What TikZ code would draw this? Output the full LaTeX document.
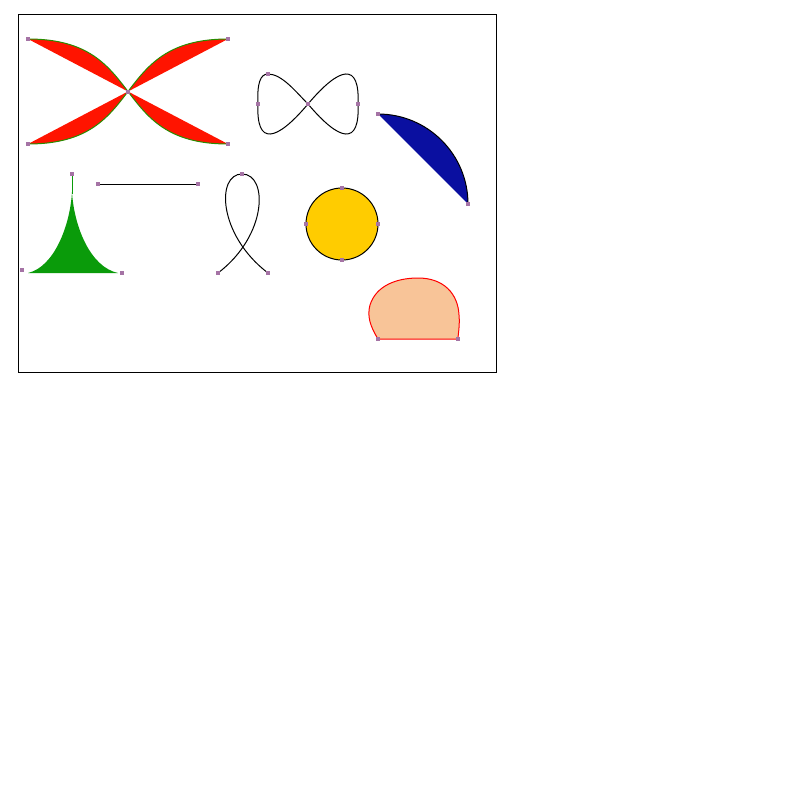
\documentclass[tikz,border=0pt]{standalone}
\usetikzlibrary{calc}

\definecolor{lobered}{RGB}{255,20,0}
\definecolor{lobeedge}{RGB}{40,140,0}
\definecolor{segblue}{RGB}{10,15,160}
\definecolor{cuspgreen}{RGB}{10,155,10}
\definecolor{discyellow}{RGB}{255,204,0}
\definecolor{blobpeach}{RGB}{248,196,152}
\definecolor{handlepurple}{RGB}{165,115,165}

\begin{document}
\begin{tikzpicture}[
    x=1pt, y=-1pt,
    frame/.style={
        draw=black,
        line width=0.9pt
    },
    outline/.style={
        draw=black,
        line width=1pt
    },
    handle/.style={
        rectangle,
        fill=handlepurple,
        draw=none,
        inner sep=0pt,
        minimum size=4pt
    }
]

    \useasboundingbox[fill=white] (0,0) rectangle (800,800);

    % Frame
    \draw[frame] (18,14) rectangle (496,372);

    % Crossed lobes
    \coordinate (xtl) at (28,39);
    \coordinate (xtr) at (228,39);
    \coordinate (xbl) at (28,144);
    \coordinate (xbr) at (228,144);
    \coordinate (xmid) at (128,92);
    \fill[lobered] (xtl) .. controls (148,39) and (108,144) .. (xbr) -- cycle;
    \fill[lobered] (xtr) .. controls (108,39) and (148,144) .. (xbl) -- cycle;
    \draw[lobeedge, line width=1pt] (xtl) .. controls (148,39) and (108,144) .. (xbr);
    \draw[lobeedge, line width=1pt] (xtr) .. controls (108,39) and (148,144) .. (xbl);

    % Figure eight
    \coordinate (ecen) at (308,104);
    \coordinate (eleft) at (258,104);
    \coordinate (eright) at (358,104);
    \coordinate (etop) at (268,74);
    \draw[outline] (ecen) .. controls (340,66) and (360,62) .. (eright)
        .. controls (360,146) and (340,142) .. (ecen)
        .. controls (276,142) and (256,146) .. (eleft)
        .. controls (257,84) and (260,74) .. (etop)
        .. controls (282,74) and (296,92) .. (ecen);

    % Circular segment
    \coordinate (sstart) at (378,114);
    \coordinate (send) at (468,204);
    \fill[segblue] (sstart) arc[start angle=270, end angle=360, radius=90] -- cycle;
    \draw[outline] (sstart) arc[start angle=270, end angle=360, radius=90];

    % Cusp
    \coordinate (ctop) at (72,174);
    \coordinate (cleft) at (22,270);
    \coordinate (cright) at (122,273);
    \fill[cuspgreen] (28,273) .. controls (54,267) and (70,226) .. (72,192)
        .. controls (74,226) and (90,267) .. (118,273) -- cycle;
    \draw[cuspgreen, line width=1pt] (ctop) -- (72,194);

    % Straight line
    \coordinate (lstart) at (98,184);
    \coordinate (lend) at (198,184);
    \draw[outline] (lstart) -- (lend);

    % Loop
    \coordinate (rtop) at (242,174);
    \coordinate (rleft) at (218,273);
    \coordinate (rright) at (268,273);
    \draw[outline] (rleft) .. controls (268,235) and (268,174) .. (rtop)
        .. controls (216,174) and (218,235) .. (rright);

    % Disc
    \coordinate (dcen) at (342,224);
    \filldraw[fill=discyellow, outline] (dcen) circle[radius=36];

    % Blob
    \coordinate (bleft) at (378,339);
    \coordinate (bright) at (458,339);
    \filldraw[fill=blobpeach, draw=red, line width=1pt] (bleft)
        .. controls (370,326) and (367,316) .. (370,305)
        .. controls (376,286) and (396,278) .. (418,278)
        .. controls (444,278) and (458,294) .. (459,315)
        .. controls (460,326) and (458,334) .. (bright) -- cycle;

    % Handles
    \foreach \pt [count=\i] in {xtl, xtr, xbl, xbr, xmid, ecen, eleft, eright, etop,
        sstart, send, ctop, cleft, cright, lstart, lend, rtop, rleft, rright, bleft, bright}
        \node[handle] (h\i) at (\pt) {};
    \foreach \ang [count=\i] in {0, 90, 180, 270}
        \node[handle] (hd\i) at ($(dcen)+(\ang:36)$) {};

\end{tikzpicture}
\end{document}
